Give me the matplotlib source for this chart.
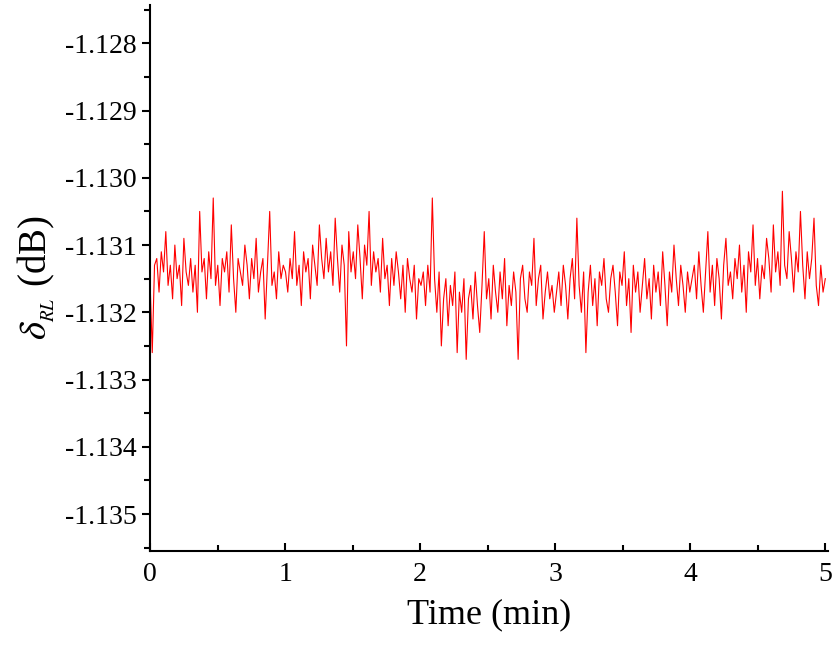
import numpy as np
import matplotlib
matplotlib.use("Agg")
import matplotlib.pyplot as plt
from matplotlib.ticker import MultipleLocator

base = -1.131
offsets_u = [
-500,-1600,-300,-200,-700,-100,-400,200,-600,-300,-800,0,-500,-300,-900,100,-400,-600,-200,-700,
-300,-1000,500,-400,-200,-800,-100,-500,700,-600,-300,-900,-200,-400,-100,-700,300,-500,-1000,-200,
-400,-600,0,-300,-800,-200,-500,100,-700,-400,-200,-1100,-300,500,-600,-400,-800,-100,-500,-300,
-400,-700,-200,-500,200,-600,-300,-900,-100,-400,-200,-800,0,-300,-600,300,-200,-500,100,-400,
-100,-600,400,-200,-700,0,-300,-1500,200,-400,-100,-500,300,-200,-800,0,-300,500,-600,-100,
-400,-200,-700,100,-500,-300,-900,-200,-600,-100,-400,-800,-300,-1000,-200,-500,-700,-300,-1100,-500,
-600,-400,-900,-300,-700,700,-500,-1000,-400,-1500,-800,-500,-1200,-600,-900,-400,-1600,-700,-1000,-500,
-1700,-800,-600,-1100,-400,-900,-1300,-600,200,-800,-500,-1100,-300,-700,-1000,-400,-800,-200,-1200,-600,
-900,-400,-700,-1700,-500,-300,-800,-1000,-400,-600,100,-900,-500,-300,-1100,-700,-400,-800,-600,-1000,
-700,-400,-900,-300,-600,-1100,-500,-200,-800,400,-600,-1000,-400,-1600,-700,-300,-900,-500,-1200,-400,
-600,-200,-800,-1000,-500,-300,-700,-1200,-400,-600,-100,-900,-500,-1300,-300,-700,-400,-1000,-600,-200,
-800,-500,-1100,-300,-700,-400,-900,-100,-600,-1200,-400,-700,0,-500,-900,-300,-600,-1000,-400,-700,
-500,-300,-800,-100,-600,-1000,-400,200,-700,-300,-900,-200,-500,-1100,-300,100,-600,-400,-800,-200,
-500,0,-700,-300,-1000,-100,-400,300,-600,-200,-800,-300,-500,100,-200,-700,300,-400,-100,-600,
800,-300,-500,200,-200,-700,-100,-400,500,-300,-800,-100,-500,-200,400,-600,-900,-300,-700,-500,
]
t_start, t_end = 0.0, 5.0
delta = base + np.array(offsets_u) * 1e-6
time = np.linspace(t_start, t_end, len(delta))

plt.rcParams['font.family'] = ['Liberation Serif', 'DejaVu Serif']
plt.rcParams['mathtext.fontset'] = 'stix'
fig = plt.figure(figsize=(8.33, 6.47), dpi=100)
ax = fig.add_axes([150/833, 1-551/647, 678/833, 546/647])
ax.plot(time, delta, color='red', lw=0.8)
ax.set_xlim(0, 5.02)
ax.set_ylim(-1.13555, -1.12743)
ax.spines['top'].set_visible(False)
ax.spines['right'].set_visible(False)
for s in ax.spines.values():
    s.set_linewidth(1.5)
ax.xaxis.set_major_locator(MultipleLocator(1))
ax.xaxis.set_minor_locator(MultipleLocator(0.5))
ax.yaxis.set_major_locator(MultipleLocator(0.001))
ax.yaxis.set_minor_locator(MultipleLocator(0.0005))
ax.yaxis.set_major_formatter(matplotlib.ticker.FuncFormatter(lambda v, p: f"{v:.3f}"))
ax.tick_params(axis='x', direction='in', length=6, width=1.5, labelsize=20, pad=8)
ax.tick_params(axis='x', which='minor', direction='in', length=4, width=1.5)
ax.tick_params(axis='y', direction='out', length=6, width=1.5, labelsize=20)
ax.tick_params(axis='y', which='minor', direction='out', length=4, width=1.5)
ax.set_xlabel('Time (min)', fontsize=26, labelpad=8)
ax.set_ylabel(r'$\delta_{_{RL}}$ (dB)', fontsize=28, labelpad=6)
fig.savefig('out.png', dpi=100)
